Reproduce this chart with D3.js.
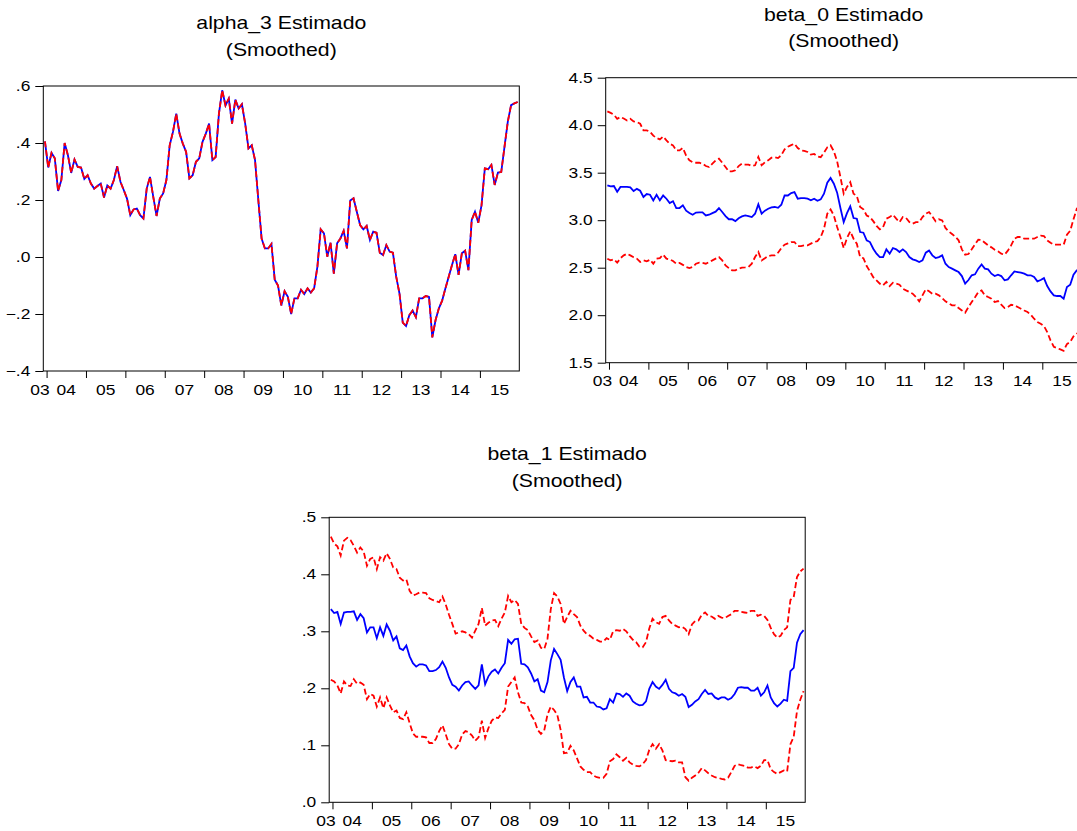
<!DOCTYPE html>
<html>
<head>
<meta charset="utf-8">
<script src="https://cdn.jsdelivr.net/npm/d3@7"></script>
<style>
  body { margin: 0; background: #fff; }
  svg { display: block; font-family: "Liberation Sans", Arial, sans-serif; }
</style>
</head>
<body>
<svg id="chart" width="1077" height="831"></svg>
<script>
// Monthly observations, 2003M12 .. 2015M12 (145 months)
const yearLabels = ["03", "04", "05", "06", "07", "08", "09", "10", "11", "12", "13", "14", "15"];

const alpha3 = [
  .406, .314, .365, .346, .232, .27, .40, .357, .295, .342, .316, .314, .274,
  .287, .258, .24, .249, .258, .209, .251, .24, .27, .319, .264, .235,
  .205, .147, .167, .17, .147, .135, .24, .281, .211, .144, .205, .223,
  .27, .392, .439, .503, .433, .398, .369, .276, .287, .334, .346, .404,
  .433, .468, .34, .351, .503, .585, .532, .556, .468, .552, .521, .536,
  .468, .381, .392, .34, .2, .065, .03, .03, .046, -.08, -.1, -.17,
  -.12, -.14, -.2, -.145, -.145, -.115, -.13, -.11, -.125, -.11, -.034, .097,
  .083, .001, .05, -.058, .048, .065, .092, .03, .198, .206, .159, .112,
  .097, .109, .06, .089, .085, .015, .007, .042, .019, .015, -.069, -.128,
  -.23, -.242, -.204, -.188, -.211, -.145, -.145, -.137, -.14, -.282, -.221, -.18,
  -.153, -.11, -.069, -.028, .01, -.063, .013, .022, -.046, .13, .159, .12,
  .182, .311, .308, .323, .253, .296, .298, .387, .475, .533, .539, .544
];

const beta0 = [
  3.367, 3.356, 3.36, 3.30, 3.35, 3.35, 3.35, 3.345, 3.307, 3.33, 3.31, 3.244, 3.275,
  3.268, 3.209, 3.268, 3.209, 3.26, 3.226, 3.18, 3.2, 3.128, 3.128, 3.156, 3.1,
  3.075, 3.058, 3.08, 3.082, 3.082, 3.05, 3.058, 3.075, 3.09, 3.128, 3.086, 3.044,
  3.01, 3.01, 2.99, 3.02, 3.04, 3.05, 3.044, 3.033, 3.068, 3.167, 3.068, 3.1,
  3.121, 3.135, 3.139, 3.13, 3.163, 3.26, 3.26, 3.286, 3.296, 3.226, 3.233, 3.233,
  3.226, 3.209, 3.226, 3.205, 3.219, 3.279, 3.395, 3.444, 3.384, 3.29, 3.128, 2.98,
  3.075, 3.146, 3.023, 3.016, 2.875, 2.868, 2.788, 2.77, 2.7, 2.647, 2.612, 2.612,
  2.693, 2.647, 2.707, 2.693, 2.665, 2.693, 2.665, 2.612, 2.588, 2.577, 2.56, 2.577,
  2.658, 2.682, 2.63, 2.602, 2.612, 2.63, 2.542, 2.507, 2.49, 2.472, 2.454, 2.412,
  2.332, 2.37, 2.42, 2.43, 2.49, 2.535, 2.49, 2.482, 2.437, 2.412, 2.426, 2.412,
  2.367, 2.377, 2.42, 2.461, 2.454, 2.447, 2.437, 2.42, 2.42, 2.402, 2.356, 2.37,
  2.39, 2.307, 2.25, 2.209, 2.202, 2.202, 2.174, 2.296, 2.32, 2.426, 2.472, 2.48
];
const beta0Upper = [
  4.146, 4.13, 4.11, 4.068, 4.086, 4.07, 4.05, 4.068, 4.04, 4.033, 4.015, 3.946, 3.946,
  3.93, 3.89, 3.865, 3.85, 3.88, 3.84, 3.805, 3.788, 3.735, 3.735, 3.76, 3.68,
  3.63, 3.61, 3.605, 3.605, 3.595, 3.57, 3.56, 3.595, 3.63, 3.648, 3.605, 3.56,
  3.514, 3.514, 3.525, 3.57, 3.595, 3.585, 3.585, 3.57, 3.578, 3.665, 3.578, 3.61,
  3.63, 3.658, 3.663, 3.654, 3.684, 3.746, 3.774, 3.79, 3.805, 3.76, 3.735, 3.73,
  3.718, 3.69, 3.697, 3.672, 3.663, 3.711, 3.767, 3.788, 3.725, 3.62, 3.454, 3.279,
  3.35, 3.40, 3.279, 3.254, 3.139, 3.114, 3.05, 3.033, 2.99, 2.94, 2.903, 2.928,
  3.016, 3.033, 3.058, 3.016, 2.98, 3.033, 3.023, 2.98, 2.963, 2.98, 2.98, 3.033,
  3.068, 3.086, 3.04, 2.988, 3.009, 2.998, 2.918, 2.882, 2.854, 2.826, 2.788, 2.693,
  2.637, 2.644, 2.693, 2.746, 2.795, 2.791, 2.763, 2.735, 2.714, 2.689, 2.672, 2.647,
  2.637, 2.679, 2.735, 2.805, 2.823, 2.823, 2.805, 2.805, 2.805, 2.805, 2.823, 2.837,
  2.833, 2.788, 2.763, 2.742, 2.742, 2.742, 2.742, 2.847, 2.89, 3.009, 3.12, 3.16
];
const beta0Lower = [
  2.595, 2.577, 2.588, 2.553, 2.60, 2.63, 2.647, 2.63, 2.61, 2.595, 2.56, 2.577, 2.567,
  2.584, 2.542, 2.595, 2.60, 2.637, 2.595, 2.588, 2.57, 2.542, 2.55, 2.53, 2.507,
  2.496, 2.507, 2.542, 2.553, 2.55, 2.542, 2.56, 2.577, 2.595, 2.612, 2.577, 2.525,
  2.496, 2.472, 2.472, 2.49, 2.5, 2.503, 2.507, 2.542, 2.612, 2.665, 2.577, 2.6,
  2.623, 2.63, 2.63, 2.658, 2.707, 2.742, 2.756, 2.77, 2.77, 2.728, 2.728, 2.735,
  2.735, 2.753, 2.77, 2.78, 2.823, 2.91, 3.068, 3.114, 3.05, 2.928, 2.823, 2.707,
  2.812, 2.882, 2.805, 2.753, 2.612, 2.60, 2.518, 2.461, 2.40, 2.367, 2.332, 2.314,
  2.35, 2.307, 2.342, 2.332, 2.321, 2.279, 2.261, 2.244, 2.226, 2.191, 2.146, 2.209,
  2.272, 2.251, 2.226, 2.226, 2.209, 2.18, 2.146, 2.125, 2.104, 2.104, 2.075, 2.05,
  2.026, 2.086, 2.139, 2.19, 2.244, 2.261, 2.209, 2.191, 2.174, 2.139, 2.149, 2.11,
  2.075, 2.086, 2.11, 2.104, 2.086, 2.068, 2.05, 2.033, 2.005, 1.963, 1.928, 1.91,
  1.886, 1.823, 1.735, 1.668, 1.654, 1.64, 1.626, 1.696, 1.718, 1.777, 1.805, 1.81
];

const beta1 = [
  .339, .332, .334, .313, .333, .334, .334, .335, .32, .33, .323, .298, .307,
  .307, .288, .307, .292, .312, .301, .284, .291, .27, .267, .275, .256,
  .244, .238, .242, .242, .24, .23, .23, .232, .237, .247, .236, .219,
  .206, .203, .196, .205, .211, .212, .205, .199, .205, .242, .207, .221,
  .229, .233, .226, .236, .244, .285, .278, .286, .287, .243, .242, .237,
  .226, .212, .216, .196, .193, .211, .249, .269, .26, .25, .219, .195,
  .211, .219, .203, .203, .184, .185, .175, .175, .168, .167, .163, .165,
  .181, .175, .191, .19, .185, .191, .187, .177, .173, .17, .171, .177,
  .199, .211, .203, .199, .206, .215, .199, .193, .191, .187, .19, .185,
  .167, .171, .177, .181, .19, .197, .19, .191, .184, .181, .184, .184,
  .18, .183, .19, .201, .202, .201, .201, .196, .196, .201, .187, .193,
  .205, .184, .174, .168, .173, .18, .178, .23, .236, .28, .295, .302
];
const beta1Upper = [
  .466, .454, .449, .433, .459, .464, .46, .45, .438, .447, .44, .415, .427,
  .43, .409, .43, .424, .437, .427, .412, .409, .394, .389, .391, .371,
  .363, .365, .368, .368, .367, .358, .355, .353, .351, .361, .347, .329,
  .313, .296, .298, .30, .298, .295, .289, .301, .313, .341, .31, .315,
  .319, .32, .309, .322, .333, .362, .351, .355, .348, .313, .306, .302,
  .291, .281, .284, .271, .269, .287, .339, .367, .361, .348, .313, .325,
  .336, .33, .325, .31, .301, .295, .292, .287, .285, .282, .282, .288,
  .285, .30, .302, .301, .304, .30, .292, .285, .281, .273, .272, .281,
  .305, .322, .316, .313, .325, .327, .319, .313, .31, .307, .308, .304,
  .295, .312, .318, .319, .329, .333, .327, .326, .322, .327, .324, .323,
  .327, .33, .336, .336, .334, .333, .332, .336, .336, .327, .329, .327,
  .32, .306, .295, .289, .292, .302, .307, .355, .36, .395, .405, .41
];
const beta1Lower = [
  .215, .212, .205, .191, .212, .205, .204, .216, .208, .21, .206, .181, .19,
  .187, .168, .184, .165, .184, .17, .158, .161, .148, .146, .158, .139,
  .121, .115, .115, .115, .114, .104, .104, .111, .125, .135, .119, .102,
  .094, .094, .102, .119, .125, .123, .117, .108, .114, .143, .113, .13,
  .143, .149, .148, .156, .162, .203, .211, .219, .193, .175, .174, .168,
  .153, .144, .127, .12, .126, .154, .168, .162, .153, .127, .086, .087,
  .099, .091, .077, .063, .057, .053, .053, .047, .044, .043, .043, .05,
  .072, .076, .084, .079, .073, .078, .07, .066, .064, .063, .067, .074,
  .092, .102, .094, .102, .091, .074, .073, .072, .073, .07, .07, .044,
  .038, .043, .047, .052, .06, .056, .051, .047, .044, .043, .041, .04,
  .043, .053, .064, .067, .065, .064, .061, .061, .063, .06, .064, .074,
  .074, .058, .053, .05, .053, .056, .054, .102, .115, .16, .18, .195
];

const nObs = alpha3.length;
const pw = 476, ph = 285;
// the source graphic has wide, stretched lettering
const tickStretch = 1.2, titleStretch = 1.18;

// EViews style decimals: .4, -.2, .0
const shortDec = v => d3.format(".1f")(v).replace("0.", ".");

const svg = d3.select("#chart");

function panel(cfg) {
  const g = svg.append("g")
    .attr("transform", "translate(" + cfg.left + "," + cfg.top + ")");

  const x = d3.scaleLinear().domain([0, nObs]).range([0, pw]);
  const y = d3.scaleLinear().domain(cfg.domain).range([ph, 0]);

  // y axis, ticks pointing out
  const yAxis = g.append("g")
    .call(d3.axisLeft(y).tickValues(cfg.ticks).tickSize(8).tickFormat(cfg.format));
  yAxis.select(".domain").remove();
  yAxis.selectAll("line").attr("stroke", "#000");
  yAxis.selectAll("text")
    .attr("font-size", 14.5)
    .attr("font-family", null)
    .attr("fill", "#000")
    .attr("x", -13 / tickStretch)
    .attr("transform", "scale(" + tickStretch + ",1)");

  // x axis: ticks at the start of each year (first obs is 2003M12)
  const yearStarts = d3.range(1, nObs, 12);
  const xAxis = g.append("g")
    .attr("transform", "translate(0," + ph + ")")
    .call(d3.axisBottom(x).tickValues(yearStarts).tickSize(7).tickFormat(""));
  xAxis.select(".domain").remove();
  xAxis.selectAll("line").attr("stroke", "#000");

  // year labels centred in each year's span, "03" just left of the box
  g.append("g").selectAll("text")
    .data(yearLabels)
    .enter().append("text")
      .attr("transform", (d, i) => "translate(" + (i === 0 ? -3.3 : x(yearStarts[i - 1] + 6)) + "," + (ph + 23.5) + ") scale(" + tickStretch + ",1)")
      .attr("text-anchor", "middle")
      .attr("font-size", 14.5)
      .text(d => d);

  const line = d3.line()
    .x((d, i) => x(i + 0.5))
    .y(d => y(d));

  g.append("clipPath").attr("id", "clip-" + cfg.id)
    .append("rect").attr("width", pw).attr("height", ph);
  const plot = g.append("g").attr("clip-path", "url(#clip-" + cfg.id + ")");

  plot.append("path")
    .datum(cfg.mean)
    .attr("d", line)
    .attr("fill", "none")
    .attr("stroke", "#0000ff")
    .attr("stroke-width", 1.8);

  cfg.bands.forEach(b => {
    plot.append("path")
      .datum(b)
      .attr("d", line)
      .attr("fill", "none")
      .attr("stroke", "#ff0000")
      .attr("stroke-width", 1.8)
      .attr("stroke-dasharray", "6,3");
  });

  g.append("rect")
    .attr("width", pw)
    .attr("height", ph)
    .attr("fill", "none")
    .attr("stroke", "#000")
    .attr("stroke-width", 1);

  // two-line title
  [[cfg.title, -57], ["(Smoothed)", -30.5]].forEach(t => {
    g.append("text")
      .attr("transform", "translate(" + pw / 2 + "," + t[1] + ") scale(" + titleStretch + ",1)")
      .attr("text-anchor", "middle")
      .attr("font-size", 18)
      .text(t[0]);
  });
}

// alpha_3 bands coincide with the estimate, so the red dashes sit on the blue line
panel({
  id: "a3", left: 43.3, top: 86, title: "alpha_3 Estimado",
  domain: [-0.4, 0.6], ticks: [-0.4, -0.2, 0, 0.2, 0.4, 0.6], format: shortDec,
  mean: alpha3, bands: [alpha3]
});

panel({
  id: "b0", left: 605.7, top: 77.7, title: "beta_0 Estimado",
  domain: [1.5, 4.5], ticks: [1.5, 2, 2.5, 3, 3.5, 4, 4.5], format: d3.format(".1f"),
  mean: beta0, bands: [beta0Upper, beta0Lower]
});

panel({
  id: "b1", left: 329.2, top: 517.3, title: "beta_1 Estimado",
  domain: [0, 0.5], ticks: [0, 0.1, 0.2, 0.3, 0.4, 0.5], format: shortDec,
  mean: beta1, bands: [beta1Upper, beta1Lower]
});
</script>
</body>
</html>
